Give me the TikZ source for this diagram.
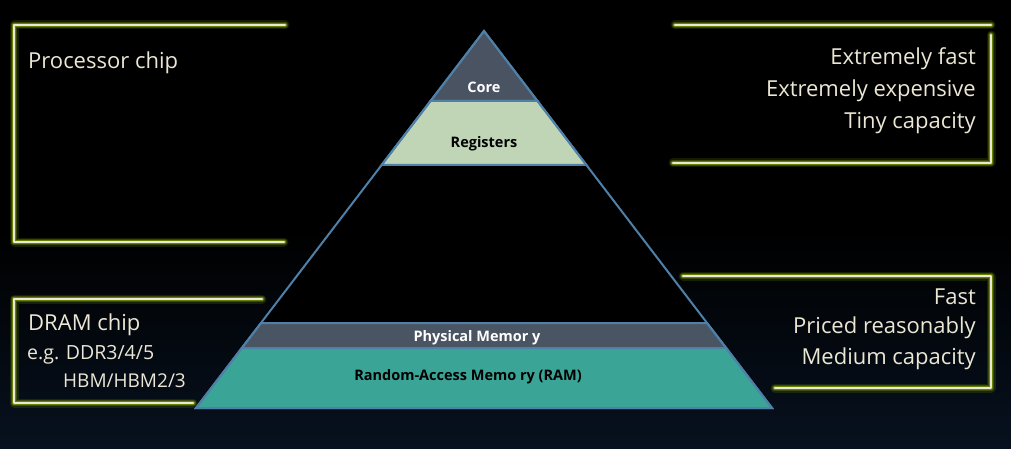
\documentclass[tikz,border=0pt]{standalone}
\usepackage{fontspec}
\setmainfont{Open Sans}
\begin{document}
\begin{tikzpicture}[x=1pt,y=-1pt]
\definecolor{bgnavy}{HTML}{07111F}
\definecolor{glow}{HTML}{7A9A00}
\definecolor{cream}{HTML}{ECE7D4}
\definecolor{edge}{HTML}{4F80A8}
\definecolor{coreC}{HTML}{4A5362}
\definecolor{regC}{HTML}{BFD5B6}
\definecolor{physC}{HTML}{4A5563}
\definecolor{ramC}{HTML}{3AA596}
\tikzset{
  glowline/.style={line cap=round, line join=round},
  sidetext/.style={text=cream, font=\fontsize{22}{26}\selectfont, inner sep=0pt},
  lefttext/.style={text=cream, inner sep=0pt, anchor=west},
  bandlabel/.style={font=\bfseries\fontsize{14.5}{17}\selectfont, inner sep=0pt},
  band/.style={draw=edge, line width=2pt, line join=miter}
}
% background
\fill[black] (0,0) rectangle (1011,449);
\shade[top color=black, bottom color=bgnavy] (0,230) rectangle (1011,449);
\useasboundingbox (0,0) rectangle (1011,449);

% glowing brackets
\newcommand{\glowpath}[1]{%
  \draw[glowline, glow, opacity=0.18, line width=9pt] #1;
  \draw[glowline, glow, opacity=0.35, line width=6.5pt] #1;
  \draw[glowline, glow, opacity=0.7, line width=4.5pt] #1;
  \draw[glowline, cream, line width=2.2pt] #1;
}
\glowpath{(285,25) -- (14,25) -- (14,242) -- (284,242)}
\glowpath{(262,299) -- (14,299) -- (14,403) -- (193,403)}
\glowpath{(675,25) -- (991,25)}
\glowpath{(991,35) -- (991,163) -- (673,163)}
\glowpath{(683,276) -- (991,276) -- (991,388) -- (775,388)}

% pyramid
\fill[black] (484,31) -- (772,408) -- (196,408) -- cycle;
\filldraw[band, fill=coreC] (484,31) -- (537.5,101) -- (430.5,101) -- cycle;
\filldraw[band, fill=regC] (430.5,101) -- (537.5,101) -- (586.4,165) -- (381.6,165) -- cycle;
\filldraw[band, fill=physC] (261,323) -- (707,323) -- (726.2,348) -- (241.8,348) -- cycle;
\filldraw[band, fill=ramC] (241.8,348) -- (726.2,348) -- (772,408) -- (196,408) -- cycle;
\draw[band] (484,31) -- (772,408) -- (196,408) -- cycle;

% band labels
\node[bandlabel, text=white] (core) at (484,87) {Core};
\node[bandlabel, text=black] (reg) at (484,144) {Registers};
\node[bandlabel, text=white] (phys) at (477,338) {Physical Memor y};
\node[bandlabel, text=black] (ram) at (468,377) {Random-Access Memo ry (RAM)};

% left texts
\node[lefttext, font=\fontsize{22}{26}\selectfont] (proc) at (28,63) {Processor chip};
\node[lefttext, font=\fontsize{22}{26}\selectfont] (dram) at (28,325) {DRAM chip};
\node[lefttext, font=\fontsize{19.5}{23}\selectfont] (eg) at (27,355) {e.g. DDR3/4/5};
\node[lefttext, font=\fontsize{19}{23}\selectfont] (hbm) at (63,381) {HBM/HBM2/3};

% right texts
\node[sidetext, anchor=east] (t1) at (976,59) {Extremely fast};
\node[sidetext, anchor=east] (t2) at (976,91) {Extremely expensive};
\node[sidetext, anchor=east] (t3) at (976,123) {Tiny capacity};
\node[sidetext, anchor=east] (m1) at (976,297) {Fast};
\node[sidetext, anchor=east] (m2) at (976,328) {Priced reasonably};
\node[sidetext, anchor=east] (m3) at (976,359) {Medium capacity};
\end{tikzpicture}
\end{document}
